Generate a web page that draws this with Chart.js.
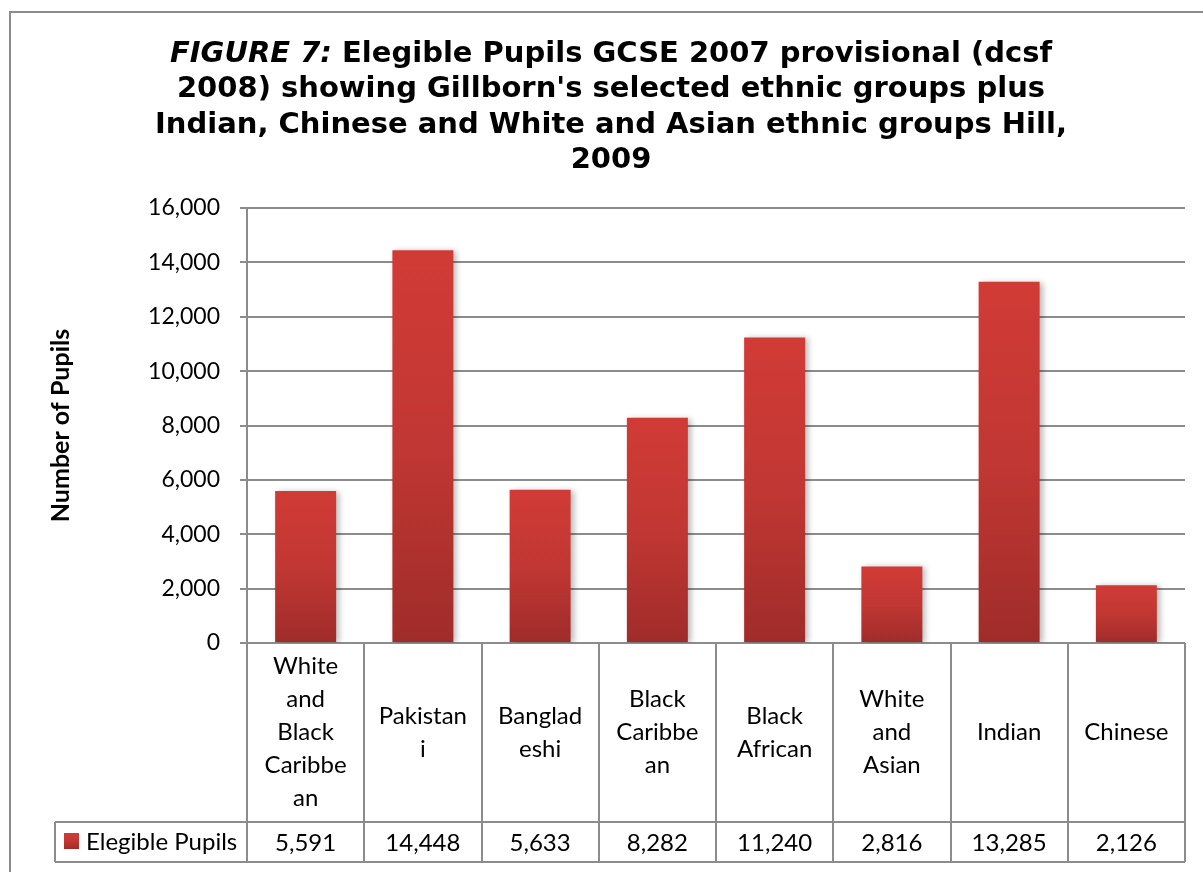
<!DOCTYPE html>
<html>
<head>
<meta charset="utf-8">
<script src="https://cdn.jsdelivr.net/npm/chart.js@4/dist/chart.umd.min.js"></script>
<style>
  html, body { margin: 0; padding: 0; background: #fff; }
  #wrap { width: 1203px; height: 872px; }
</style>
</head>
<body>
<div id="wrap"><canvas id="myChart" width="1203" height="872"></canvas></div>
<script>
var categories = [
  ['White', 'and', 'Black', 'Caribbe', 'an'],
  ['Pakistan', 'i'],
  ['Banglad', 'eshi'],
  ['Black', 'Caribbe', 'an'],
  ['Black', 'African'],
  ['White', 'and', 'Asian'],
  ['Indian'],
  ['Chinese']
];
var pupils = [5591, 14448, 5633, 8282, 11240, 2816, 13285, 2126];
var seriesName = 'Elegible Pupils';
var yTicks = [0, 2000, 4000, 6000, 8000, 10000, 12000, 14000, 16000];
var titleLines = [
  ['FIGURE 7:', ' Elegible Pupils GCSE 2007 provisional (dcsf'],
  ['', '2008) showing Gillborn\'s selected ethnic groups plus'],
  ['', 'Indian, Chinese and White and Asian ethnic groups Hill,'],
  ['', '2009']
];
var yTitle = 'Number of Pupils';

var LINE = '#8c8c8c';
var FONT = 'Lato, "Open Sans", sans-serif';

function barFill(ctx, yTop, yBottom) {
  var g = ctx.createLinearGradient(0, yTop, 0, yBottom);
  g.addColorStop(0, '#d13b36');
  g.addColorStop(0.5, '#c13733');
  g.addColorStop(1, '#9f2c2a');
  return g;
}

// title, outer frame, y title and the data table under the plot
var extras = {
  id: 'extras',
  beforeDatasetsDraw: function(chart) {
    var c = chart.ctx;
    c.save();
    c.shadowColor = 'rgba(0,0,0,0.28)';
    c.shadowBlur = 6;
    c.shadowOffsetX = 3;
    c.shadowOffsetY = 1;
  },
  afterDatasetsDraw: function(chart) {
    chart.ctx.restore();
  },
  afterDraw: function(chart) {
    var c = chart.ctx;
    var a = chart.chartArea;
    var x = chart.scales.x;
    c.save();

    // outer frame
    c.strokeStyle = LINE;
    c.lineWidth = 2;
    c.strokeRect(10, 12, 1250, 900);

    // title, first words in italic
    c.fillStyle = '#000';
    c.textBaseline = 'alphabetic';
    var fb = 'bold 29px "DejaVu Sans", Verdana, sans-serif';
    var fi = 'italic bold 29px "DejaVu Sans", Verdana, sans-serif';
    titleLines.forEach(function(parts, i) {
      c.font = fi;
      var w1 = c.measureText(parts[0]).width;
      c.font = fb;
      var w2 = c.measureText(parts[1]).width;
      var sx = 611 - (w1 + w2) / 2;
      var by = 62 + i * 35.3;
      c.textAlign = 'left';
      c.font = fi;
      c.fillText(parts[0], sx, by);
      c.font = fb;
      c.fillText(parts[1], sx + w1, by);
    });

    // y axis title
    c.save();
    c.translate(61, (a.top + a.bottom) / 2);
    c.rotate(-Math.PI / 2);
    c.font = 'bold 25px ' + FONT;
    c.textAlign = 'center';
    c.textBaseline = 'middle';
    c.fillText(yTitle, 0, 0);
    c.restore();

    // data table
    var n = categories.length;
    var step = (a.right - a.left) / n;
    var rowTop = 822, rowBottom = 862, tableLeft = 55;
    c.strokeStyle = LINE;
    c.lineWidth = 2;
    c.beginPath();
    for (var i = 0; i <= n; i++) {
      var lx = Math.round(a.left + i * step);
      c.moveTo(lx, a.bottom);
      c.lineTo(lx, rowBottom);
    }
    c.moveTo(tableLeft, rowTop); c.lineTo(a.right, rowTop);
    c.moveTo(tableLeft, rowBottom); c.lineTo(a.right, rowBottom);
    c.moveTo(tableLeft, rowTop); c.lineTo(tableLeft, rowBottom);
    c.stroke();

    c.font = '24px ' + FONT;
    c.textAlign = 'center';
    c.textBaseline = 'middle';
    var lh = 33;
    var mid = (a.bottom + rowTop) / 2;
    categories.forEach(function(lines, i) {
      var cx = x.getPixelForValue(i);
      var y0 = mid - (lines.length - 1) * lh / 2;
      lines.forEach(function(t, j) {
        c.fillText(t, cx, y0 + j * lh);
      });
      c.fillText(pupils[i].toLocaleString('en-US'), cx, (rowTop + rowBottom) / 2 + 1);
    });

    // legend key in the table
    c.fillStyle = barFill(c, 833, 849);
    c.fillRect(64, 833, 15, 16);
    c.fillStyle = '#000';
    c.textAlign = 'left';
    c.fillText(seriesName, 86, (rowTop + rowBottom) / 2);
    c.restore();
  }
};

var ctx = document.getElementById('myChart').getContext('2d');
var chart = new Chart(ctx, {
  type: 'bar',
  data: {
    labels: categories.map(function(l) { return l.join(' '); }),
    datasets: [{
      label: seriesName,
      data: pupils,
      backgroundColor: function(context) {
        var ch = context.chart;
        var a = ch.chartArea;
        if (!a || context.dataIndex === undefined) return '#c13733';
        var yTop = ch.scales.y.getPixelForValue(context.raw);
        return barFill(ch.ctx, yTop, a.bottom);
      },
      borderWidth: 0,
      categoryPercentage: 1,
      barPercentage: 0.52
    }]
  },
  options: {
    responsive: false,
    animation: false,
    layout: { padding: { left: 0, top: 208, right: 18, bottom: 229 } },
    plugins: {
      legend: { display: false },
      title: { display: false },
      tooltip: { enabled: false }
    },
    scales: {
      x: { display: false },
      y: {
        min: 0,
        max: 16000,
        afterFit: function(s) { s.width = 247; },
        afterBuildTicks: function(s) { s.ticks = yTicks.map(function(v) { return { value: v }; }); },
        ticks: {
          color: '#000',
          padding: 20,
          font: { family: 'Lato, "Open Sans", sans-serif', size: 23 },
          callback: function(v) { return v.toLocaleString('en-US'); }
        },
        grid: { color: LINE, lineWidth: 2, tickLength: 7 },
        border: { color: LINE, width: 2 }
      }
    }
  },
  plugins: [extras]
});
</script>
</body>
</html>
